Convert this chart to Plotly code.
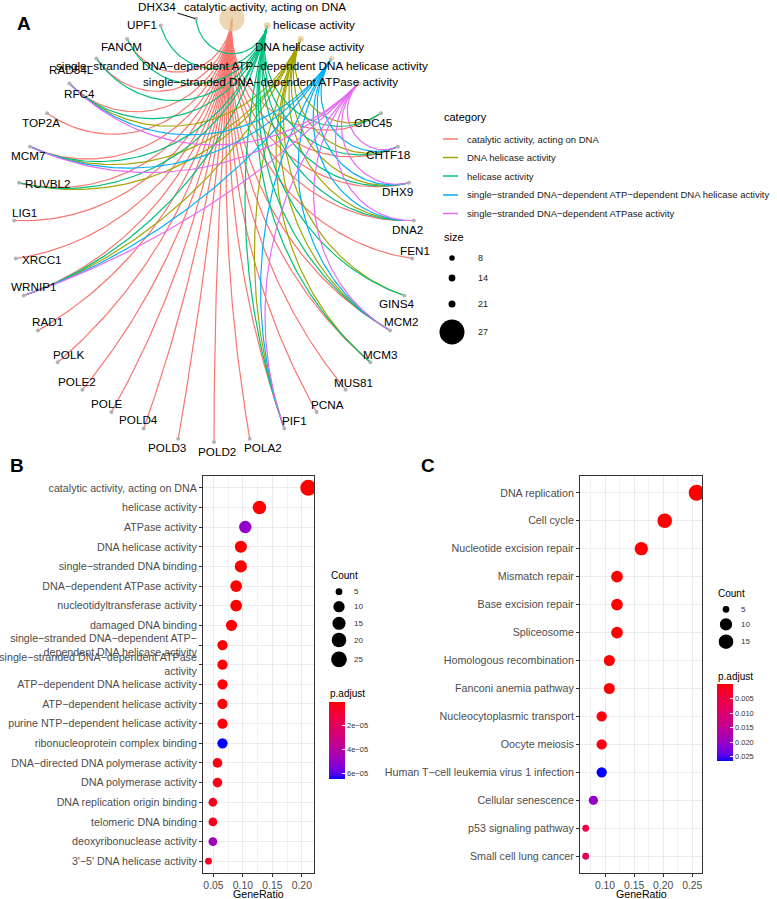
import numpy as np
import plotly.graph_objects as go

W, H = 777, 899
FONT = "Liberation Sans, Arial, Helvetica, sans-serif"
MINUS = "\u2212"

# ---------------- Panel A data (cnetplot) ----------------
cnet_categories = [
    "catalytic activity, acting on DNA",
    "helicase activity",
    "DNA helicase activity",
    "single-stranded DNA-dependent ATP-dependent DNA helicase activity",
    "single-stranded DNA-dependent ATPase activity",
]
cnet_legend_order = [
    "catalytic activity, acting on DNA",
    "DNA helicase activity",
    "helicase activity",
    "single-stranded DNA-dependent ATP-dependent DNA helicase activity",
    "single-stranded DNA-dependent ATPase activity",
]
cnet_genes = ["CDC45", "CHTF18", "DHX9", "DNA2", "FEN1", "GINS4", "MCM2", "MCM3", "MUS81",
              "PCNA", "PIF1", "POLA2", "POLD2", "POLD3", "POLD4", "POLE", "POLE2", "POLK",
              "RAD1", "WRNIP1", "XRCC1", "LIG1", "RUVBL2", "MCM7", "TOP2A", "RFC4", "RAD54L",
              "FANCM", "UPF1", "DHX34"]
genes_catalytic = ["CDC45", "CHTF18", "DHX9", "DNA2", "FEN1", "MCM2", "MCM3", "MUS81", "PCNA",
                   "PIF1", "POLA2", "POLD2", "POLD3", "POLD4", "POLE", "POLE2", "POLK", "RAD1",
                   "WRNIP1", "XRCC1", "LIG1", "RUVBL2", "MCM7", "TOP2A", "RFC4", "RAD54L", "FANCM"]
genes_helicase = ["CDC45", "CHTF18", "DHX9", "DNA2", "GINS4", "MCM2", "MCM3", "PIF1", "WRNIP1",
                  "RUVBL2", "MCM7", "RFC4", "RAD54L", "FANCM", "UPF1", "DHX34"]
genes_dna_helicase = ["CDC45", "CHTF18", "DHX9", "DNA2", "GINS4", "MCM2", "MCM3", "PIF1",
                      "WRNIP1", "RUVBL2", "MCM7", "RFC4"]
genes_ss_atp_helicase = ["CHTF18", "DHX9", "DNA2", "MCM2", "PIF1", "WRNIP1", "MCM7", "RFC4"]
genes_ss_atpase = ["CHTF18", "DHX9", "DNA2", "MCM2", "PIF1", "WRNIP1", "MCM7", "RFC4"]
cnet_sets = {
    cnet_categories[0]: genes_catalytic,
    cnet_categories[1]: genes_helicase,
    cnet_categories[2]: genes_dna_helicase,
    cnet_categories[3]: genes_ss_atp_helicase,
    cnet_categories[4]: genes_ss_atpase,
}
size_legend_vals = [8, 14, 21, 27]

# ---------------- Panel B data (GO MF dotplot) ----------------
mf_terms = [
    "catalytic activity, acting on DNA", "helicase activity", "ATPase activity",
    "DNA helicase activity", "single-stranded DNA binding", "DNA-dependent ATPase activity",
    "nucleotidyltransferase activity", "damaged DNA binding",
    "single-stranded DNA-dependent ATP-dependent DNA helicase activity",
    "single-stranded DNA-dependent ATPase activity", "ATP-dependent DNA helicase activity",
    "ATP-dependent helicase activity", "purine NTP-dependent helicase activity",
    "ribonucleoprotein complex binding", "DNA-directed DNA polymerase activity",
    "DNA polymerase activity", "DNA replication origin binding", "telomeric DNA binding",
    "deoxyribonuclease activity", "3'-5' DNA helicase activity",
]
mf_gene_ratio = [0.211, 0.128, 0.104, 0.0965, 0.0965, 0.0885, 0.0885, 0.0806, 0.0653, 0.0653,
                 0.0653, 0.0653, 0.0653, 0.0653, 0.0568, 0.0568, 0.049, 0.049, 0.049, 0.0415]
mf_count = [26, 16, 13, 12, 12, 11, 11, 10, 8, 8, 8, 8, 8, 8, 7, 7, 6, 6, 6, 5]
mf_padj = [1e-12, 2e-9, 5.0e-5, 1e-8, 2e-8, 6e-8, 8e-8, 3e-7, 2e-7, 2e-7, 6e-7, 9e-7, 1.1e-6,
           6.5e-5, 2.5e-6, 3e-6, 4e-6, 4.5e-6, 4.6e-5, 5e-6]
mf_count_breaks = [5, 10, 15, 20, 25]
mf_padj_breaks = [2e-5, 4e-5, 6e-5]
mf_padj_labels = ["2e" + MINUS + "05", "4e" + MINUS + "05", "6e" + MINUS + "05"]
mf_x_ticks = [0.05, 0.10, 0.15, 0.20]

# ---------------- Panel C data (KEGG dotplot) ----------------
kegg_terms = [
    "DNA replication", "Cell cycle", "Nucleotide excision repair", "Mismatch repair",
    "Base excision repair", "Spliceosome", "Homologous recombination", "Fanconi anemia pathway",
    "Nucleocytoplasmic transport", "Oocyte meiosis", "Human T-cell leukemia virus 1 infection",
    "Cellular senescence", "p53 signaling pathway", "Small cell lung cancer",
]
kegg_gene_ratio = [0.2576, 0.2026, 0.1624, 0.1206, 0.1206, 0.1206, 0.1074, 0.1074, 0.0943,
                   0.0943, 0.0943, 0.080, 0.0668, 0.0668]
kegg_count = [19, 15, 12, 9, 9, 9, 8, 8, 7, 7, 7, 6, 5, 5]
kegg_padj = [1e-10, 2e-8, 1e-6, 3e-5, 5e-5, 8e-5, 2e-4, 3e-4, 8e-4, 9e-4, 0.0265, 0.0205,
             0.0055, 0.0085]
kegg_count_breaks = [5, 10, 15]
kegg_padj_breaks = [0.005, 0.010, 0.015, 0.020, 0.025]
kegg_padj_labels = ["0.005", "0.010", "0.015", "0.020", "0.025"]
kegg_x_ticks = [0.10, 0.15, 0.20, 0.25]

# ---------------- styles ----------------
cat_colors = {
    "catalytic activity, acting on DNA": "#F8766D",
    "DNA helicase activity": "#A3A500",
    "helicase activity": "#00BF7D",
    "single-stranded DNA-dependent ATP-dependent DNA helicase activity": "#00B0F6",
    "single-stranded DNA-dependent ATPase activity": "#E76BF3",
}
size_legend_diam = [5.5, 6.8, 7.0, 25.0]


def disp(s):
    return s.replace("-", MINUS)


def px(xp):
    return xp / W


def py(yp):
    return 1 - yp / H


# Lab interpolation (as ggplot's gradient) -------------------------------
def _lin(c):
    c = c / 255.0
    return c / 12.92 if c <= 0.04045 else ((c + 0.055) / 1.055) ** 2.4


def hex_to_lab(h):
    r, g, b = [int(h[i:i + 2], 16) for i in (1, 3, 5)]
    R, G, B = _lin(r), _lin(g), _lin(b)
    X = (0.4124 * R + 0.3576 * G + 0.1805 * B) / 0.95047
    Y = (0.2126 * R + 0.7152 * G + 0.0722 * B)
    Z = (0.0193 * R + 0.1192 * G + 0.9505 * B) / 1.08883
    f = lambda t: t ** (1 / 3) if t > 0.008856 else 7.787 * t + 16 / 116
    fx, fy, fz = f(X), f(Y), f(Z)
    return 116 * fy - 16, 500 * (fx - fy), 200 * (fy - fz)


def lab_to_hex(L, a, b):
    fy = (L + 16) / 116
    fx = fy + a / 500
    fz = fy - b / 200
    finv = lambda t: t ** 3 if t ** 3 > 0.008856 else (t - 16 / 116) / 7.787
    X, Y, Z = 0.95047 * finv(fx), finv(fy), 1.08883 * finv(fz)
    rgb = [3.2406 * X - 1.5372 * Y - 0.4986 * Z,
           -0.9689 * X + 1.8758 * Y + 0.0415 * Z,
           0.0557 * X - 0.2040 * Y + 1.0570 * Z]
    out = []
    for c in rgb:
        c = min(max(c, 0), 1)
        c = 12.92 * c if c <= 0.0031308 else 1.055 * c ** (1 / 2.4) - 0.055
        out.append(int(round(min(max(c, 0), 1) * 255)))
    return "#%02X%02X%02X" % tuple(out)


lab_red, lab_blue = hex_to_lab("#FF0000"), hex_to_lab("#0000FF")
colorscale = []
for s in np.linspace(0, 1, 21):
    t = 1 - s  # s=0 -> blue (max p), s=1 -> red (min p)
    L = lab_red[0] + (lab_blue[0] - lab_red[0]) * t
    A = lab_red[1] + (lab_blue[1] - lab_red[1]) * t
    B = lab_red[2] + (lab_blue[2] - lab_red[2]) * t
    colorscale.append([float(s), lab_to_hex(L, A, B)])

fig = go.Figure()

# ---------------- Panel A: circular cnetplot ----------------
node_names = cnet_categories + cnet_genes
step = 2 * np.pi / len(node_names)
start = np.deg2rad(84.86)
alpha = {name: start - i * step for i, name in enumerate(node_names)}
node_x = {n: np.cos(a) for n, a in alpha.items()}
node_y = {n: np.sin(a) for n, a in alpha.items()}


def geodesic(a, b, n=80):
    p = np.array([np.cos(a), np.sin(a)])
    q = np.array([np.cos(b), np.sin(b)])
    d = (b - a + np.pi) % (2 * np.pi) - np.pi
    h = abs(d) / 2
    if abs(np.cos(h)) < 1e-3:
        t = np.linspace(0, 1, n)
        return p[0] + (q[0] - p[0]) * t, p[1] + (q[1] - p[1]) * t
    m = a + d / 2
    c = np.array([np.cos(m), np.sin(m)]) / np.cos(h)
    r = np.tan(h)
    pa = np.arctan2(p[1] - c[1], p[0] - c[0])
    pb = np.arctan2(q[1] - c[1], q[0] - c[0])
    dd = (pb - pa + np.pi) % (2 * np.pi) - np.pi
    ts = pa + dd * np.linspace(0, 1, n)
    return c[0] + r * np.cos(ts), c[1] + r * np.sin(ts)


for cat in cnet_legend_order:
    xs, ys = [], []
    for g in cnet_sets[cat]:
        ex, ey = geodesic(alpha[cat], alpha[g])
        xs += list(ex) + [None]
        ys += list(ey) + [None]
    fig.add_trace(go.Scatter(x=xs, y=ys, mode="lines", xaxis="x3", yaxis="y3",
                             line=dict(color=cat_colors[cat], width=1.2),
                             hoverinfo="skip", showlegend=False, cliponaxis=False))

# gene nodes
fig.add_trace(go.Scatter(x=[node_x[g] for g in cnet_genes], y=[node_y[g] for g in cnet_genes],
                         mode="markers", xaxis="x3", yaxis="y3", cliponaxis=False,
                         marker=dict(size=4, color="#B3B3B3", line=dict(width=0)),
                         hoverinfo="skip", showlegend=False))
# category nodes
cat_sizes = [len(cnet_sets[c]) for c in cnet_categories]
fig.add_trace(go.Scatter(x=[node_x[c] for c in cnet_categories],
                         y=[node_y[c] for c in cnet_categories],
                         mode="markers", xaxis="x3", yaxis="y3", cliponaxis=False,
                         marker=dict(size=list(np.interp(cat_sizes, size_legend_vals, size_legend_diam)),
                                     color="#E5C494", line=dict(width=0)),
                         hoverinfo="skip", showlegend=False))

annotations = []
gene_label_offsets = {
    "CDC45": (-7, 9), "CHTF18": (-10, 8), "DHX9": (-11, 9), "DNA2": (-6, 9), "FEN1": (3, -8),
    "GINS4": (-7, 8), "MCM2": (11, -9), "MCM3": (10, -8), "MUS81": (8, -7), "PCNA": (11, -8),
    "PIF1": (10, -8), "POLA2": (13, 9), "POLD2": (3, 9), "POLD3": (-11, 9), "POLD4": (-5, -9),
    "POLE": (-5, -9), "POLE2": (-5, -8), "POLK": (11, -8), "RAD1": (10, -9), "WRNIP1": (10, -9),
    "XRCC1": (26, 1), "LIG1": (10, -8), "RUVBL2": (28, 1), "MCM7": (-2, 9), "TOP2A": (-6, 9),
    "RFC4": (10, 10), "RAD54L": (-25, 11), "FANCM": (-6, 8), "UPF1": (-19, -1),
}
cat_label_offsets = {
    cnet_categories[0]: (33, -12),
    cnet_categories[1]: (47, -1),
    cnet_categories[2]: (9, 8),
    cnet_categories[3]: (-90, 7),
    cnet_categories[4]: (-88, -2),
}
lab_font = dict(family=FONT, size=11.7, color="#000000")
for g, (dx, dy) in gene_label_offsets.items():
    annotations.append(dict(x=node_x[g], y=node_y[g], xref="x3", yref="y3", text=g,
                            showarrow=False, xshift=dx, yshift=-dy, font=lab_font))
annotations.append(dict(x=node_x["DHX34"], y=node_y["DHX34"], xref="x3", yref="y3", text="DHX34",
                        showarrow=True, ax=-39, ay=-12, arrowhead=0, arrowwidth=1,
                        arrowcolor="#000000", standoff=1, font=lab_font))
for c, (dx, dy) in cat_label_offsets.items():
    annotations.append(dict(x=node_x[c], y=node_y[c], xref="x3", yref="y3", text=disp(c),
                            showarrow=False, xshift=dx, yshift=-dy, font=lab_font))

# Panel A legend
shapes = []
leg_title_font = dict(family=FONT, size=11, color="#000000")
leg_text_font = dict(family=FONT, size=9.5, color="#1A1A1A")
annotations.append(dict(x=px(442), y=py(117), xref="paper", yref="paper", text="category",
                        showarrow=False, xanchor="left", yanchor="middle", font=leg_title_font))
for i, cat in enumerate(cnet_legend_order):
    yy = [139, 157.5, 176, 195, 213.5][i]
    shapes.append(dict(type="line", xref="paper", yref="paper", x0=px(443), x1=px(458),
                       y0=py(yy), y1=py(yy), line=dict(color=cat_colors[cat], width=1.5)))
    annotations.append(dict(x=px(465), y=py(yy), xref="paper", yref="paper", text=disp(cat),
                            showarrow=False, xanchor="left", yanchor="middle", font=leg_text_font))
annotations.append(dict(x=px(442), y=py(237), xref="paper", yref="paper", text="size",
                        showarrow=False, xanchor="left", yanchor="middle", font=leg_title_font))
for i, v in enumerate(size_legend_vals):
    yy = [258, 278, 304, 332][i]
    d = float(np.interp(v, size_legend_vals, size_legend_diam))
    cx = 452
    shapes.append(dict(type="circle", xref="paper", yref="paper", x0=px(cx - d / 2), x1=px(cx + d / 2),
                       y0=py(yy + d / 2), y1=py(yy - d / 2), fillcolor="#000000", line=dict(width=0)))
    annotations.append(dict(x=px(476), y=py(yy), xref="paper", yref="paper", text=str(v),
                            showarrow=False, xanchor="left", yanchor="middle",
                            font=dict(family=FONT, size=9, color="#1A1A1A")))


# ---------------- Panels B, C: dot plots ----------------
def dot_diam(c, cmin, cmax, dmin=6.8, dmax=16.0):
    return dmin + (dmax - dmin) * np.sqrt((np.asarray(c, float) - cmin) / (cmax - cmin))


def add_dotplot(terms, ratio, count, padj, xa, ya, coloraxis):
    cmin, cmax = min(count), max(count)
    fig.add_trace(go.Scatter(
        x=ratio, y=terms, mode="markers", xaxis=xa, yaxis=ya,
        marker=dict(size=list(dot_diam(count, cmin, cmax)), color=[-p for p in padj],
                    coloraxis=coloraxis, line=dict(width=0), opacity=1),
        hoverinfo="skip", showlegend=False))


add_dotplot(mf_terms, mf_gene_ratio, mf_count, mf_padj, "x", "y", "coloraxis")
add_dotplot(kegg_terms, kegg_gene_ratio, kegg_count, kegg_padj, "x2", "y2", "coloraxis2")


def count_legend(title_xy, vals, cmin, cmax, cx, ys, tx):
    annotations.append(dict(x=px(title_xy[0]), y=py(title_xy[1]), xref="paper", yref="paper",
                            text="Count", showarrow=False, xanchor="left", yanchor="middle",
                            font=dict(family=FONT, size=10, color="#000000")))
    for v, yy in zip(vals, ys):
        d = float(dot_diam([v], cmin, cmax)[0])
        shapes.append(dict(type="circle", xref="paper", yref="paper",
                           x0=px(cx - d / 2), x1=px(cx + d / 2), y0=py(yy + d / 2), y1=py(yy - d / 2),
                           fillcolor="#000000", line=dict(width=0)))
        annotations.append(dict(x=px(tx), y=py(yy), xref="paper", yref="paper", text=str(v),
                                showarrow=False, xanchor="left", yanchor="middle",
                                font=dict(family=FONT, size=8, color="#333333")))


count_legend((329, 575), mf_count_breaks, min(mf_count), max(mf_count), 339,
             [591.7, 606.7, 623.3, 640.0, 659.3], 352)
count_legend((716, 593), kegg_count_breaks, min(kegg_count), max(kegg_count), 726,
             [609.3, 624.3, 641.7], 739)

for (tx, ty) in [(328, 693), (716, 676)]:
    annotations.append(dict(x=px(tx), y=py(ty), xref="paper", yref="paper", text="p.adjust",
                            showarrow=False, xanchor="left", yanchor="middle",
                            font=dict(family=FONT, size=10, color="#000000")))

# axis titles
for cxp in [(203 + 314) / 2, (580 + 702) / 2]:
    annotations.append(dict(x=px(cxp), y=0, xref="paper", yref="paper", text="GeneRatio",
                            showarrow=False, xanchor="center", yanchor="bottom", borderpad=0,
                            yshift=-2, font=dict(family=FONT, size=10.6, color="#000000")))

# panel letters
for letter, (lx, ly) in {"A": (24, 24), "B": (17, 465), "C": (428, 465)}.items():
    annotations.append(dict(x=px(lx), y=py(ly), xref="paper", yref="paper", text="<b>%s</b>" % letter,
                            showarrow=False, xanchor="center", yanchor="middle",
                            font=dict(family=FONT, size=19, color="#000000")))

mf_ticktext = [disp(t) for t in mf_terms]
mf_ticktext[8] = disp("single-stranded DNA-dependent ATP-<br>dependent DNA helicase activity")
mf_ticktext[9] = disp("single-stranded DNA-dependent ATPase<br>activity")

tickfont = dict(family=FONT, size=10.7, color="#4D4D4D")
xtickfont = dict(family=FONT, size=10.4, color="#4D4D4D")
common_x = dict(showline=True, mirror=True, linecolor="#333333", linewidth=1, ticks="outside",
                ticklen=3, tickcolor="#333333", tickwidth=1, showgrid=True, gridcolor="#EBEBEB",
                gridwidth=1, zeroline=False, tickfont=xtickfont, automargin=False)
common_y = dict(showline=True, mirror=True, linecolor="#333333", linewidth=1, ticks="outside",
                ticklen=3, tickcolor="#333333", tickwidth=1, showgrid=True, gridcolor="#EBEBEB",
                gridwidth=1, zeroline=False, tickfont=tickfont, automargin=False,
                type="category", categoryorder="array")


def colorbar(x0, ytop, tickvals, ticktext):
    return dict(x=px(x0), xanchor="left", y=py(ytop), yanchor="top", len=77, lenmode="pixels",
                thickness=16, thicknessmode="pixels", xpad=0, ypad=0, outlinewidth=0,
                tickmode="array", tickvals=tickvals, ticktext=ticktext, ticks="inside",
                ticklen=3, tickcolor="white", tickfont=dict(family=FONT, size=7.5, color="#333333"))


fig.update_layout(
    width=W, height=H, margin=dict(l=0, r=0, t=0, b=0), autosize=False,
    paper_bgcolor="white", plot_bgcolor="white", template="none", showlegend=False,
    font=dict(family=FONT),
    xaxis=dict(domain=[px(203), px(314)], range=[0.0322, 0.2207], tickmode="array",
               tickvals=mf_x_ticks, ticktext=["%.2f" % v for v in mf_x_ticks],
               minor=dict(tickmode="array", tickvals=[0.075, 0.125, 0.175], showgrid=True,
                          gridcolor="#F2F2F2", gridwidth=0.6, ticks=""),
               anchor="y", **common_x),
    yaxis=dict(domain=[py(873), py(476)], categoryarray=mf_terms,
               range=[len(mf_terms) - 1 + 0.6, -0.6], tickmode="array", tickvals=mf_terms,
               ticktext=mf_ticktext, anchor="x", **common_y),
    xaxis2=dict(domain=[px(580), px(702)], range=[0.0570, 0.2667], tickmode="array",
                tickvals=kegg_x_ticks, ticktext=["%.2f" % v for v in kegg_x_ticks],
                minor=dict(tickmode="array", tickvals=[0.075, 0.125, 0.175, 0.225], showgrid=True,
                           gridcolor="#F2F2F2", gridwidth=0.6, ticks=""),
                anchor="y2", **common_x),
    yaxis2=dict(domain=[py(873), py(476)], categoryarray=kegg_terms,
                range=[len(kegg_terms) - 1 + 0.6, -0.6], tickmode="array", tickvals=kegg_terms,
                ticktext=[disp(t) for t in kegg_terms], anchor="x2", **common_y),
    xaxis3=dict(domain=[px(4), px(424)], range=[-1.05, 1.05], visible=False, anchor="y3"),
    yaxis3=dict(domain=[py(459), py(1)], range=[-1.08, 1.08], visible=False, anchor="x3"),
    coloraxis=dict(colorscale=colorscale, cmin=-6.5e-5, cmax=0,
                   colorbar=colorbar(329, 702, [-v for v in mf_padj_breaks], mf_padj_labels)),
    coloraxis2=dict(colorscale=colorscale, cmin=-0.0265, cmax=0,
                    colorbar=colorbar(717, 684, [-v for v in kegg_padj_breaks], kegg_padj_labels)),
    annotations=annotations,
    shapes=shapes,
)

fig.write_html("out.html", config={"displayModeBar": False},
               post_script="document.body.style.margin='0px';document.body.style.padding='0px';"
                           "document.body.style.overflow='hidden';")
